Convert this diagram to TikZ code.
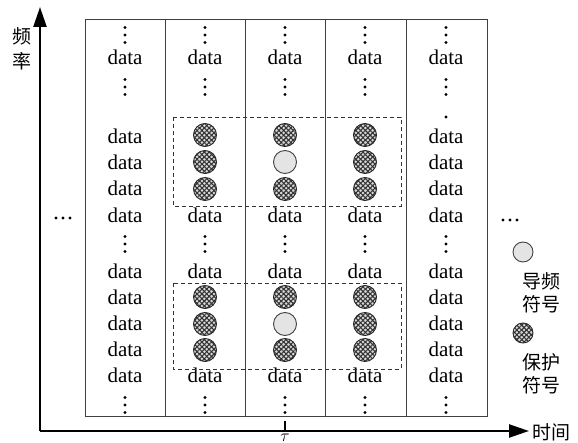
\documentclass[tikz,border=0pt]{standalone}
\usepackage{fontspec}
\setmainfont{Liberation Serif}
\newfontfamily\cjk{Noto Sans CJK SC}
\usetikzlibrary{arrows.meta,patterns.meta}

\begin{document}
\begin{tikzpicture}[x=1pt,y=-1pt,
  frame/.style={draw=black!75, line width=1pt},
  axis/.style={line width=2.4pt, -{Triangle[length=20pt,width=13pt]}},
  datum/.style={font=\fontsize{21}{24}\selectfont, inner sep=0pt},
  region/.style={draw=black!80, dash pattern=on 4pt off 3pt, line width=0.9pt},
  guard/.style={circle, minimum size=23pt, inner sep=0pt, draw=black!85, line width=0.9pt, fill=gray!30,
    postaction={pattern={Lines[angle=45,distance=3.4pt,line width=1.1pt]}, pattern color=black!80},
    postaction={pattern={Lines[angle=-45,distance=3.4pt,line width=1.1pt]}, pattern color=black!80}},
  pilot/.style={circle, minimum size=23pt, inner sep=0pt, draw=black!75, line width=0.9pt, fill=gray!12,
    postaction={pattern={Dots[radius=0.45pt,distance=2pt]}, pattern color=black!60}},
  small/.style={minimum size=20pt},
  cjklabel/.style={font=\cjk\fontsize{19}{22}\selectfont, inner sep=0pt},
  vdots/.pic={\foreach \k in {-7.5,0,7.5} \fill (0,\k) circle (1.7pt);},
  hdots/.pic={\foreach \k in {-7,0,7} \fill (\k,0) circle (1.6pt);}
]
\useasboundingbox (0,0) rectangle (578,443);

% axes
\coordinate (origin) at (40,431);
\coordinate (ftop) at (40,7);
\coordinate (tend) at (529,431);
\draw[axis] (origin) -- (ftop);
\draw[axis] (origin) -- (tend);
\node[cjklabel] (freq1) at (22,36) {频};
\node[cjklabel] (freq2) at (22,61) {率};
\node[cjklabel, anchor=west] (timelbl) at (532,432) {时间};
\coordinate (tickb) at (285,431);
\coordinate (tickt) at (285,421);
\draw[line width=2pt] (tickb) -- (tickt);
\node[font=\fontsize{16}{18}\selectfont, inner sep=0pt, anchor=south] (taulbl) at (285,442) {$\tau$};

% symbol grid
\draw[frame] (85,20) rectangle (487,416);
\foreach \xb in {165,245,325,406} \draw[frame] (\xb,20) -- (\xb,416);

% rows common to every column
\foreach \c/\x in {1/125,2/205,3/285,4/365,5/446} {
  \pic at (\x,35) {vdots};
  \node[datum] (top-\c) at (\x,57) {data};
  \pic at (\x,87) {vdots};
  \node[datum] (mid-\c) at (\x,215) {data};
  \pic at (\x,244) {vdots};
  \node[datum] (low-\c) at (\x,271) {data};
  \node[datum] (bot-\c) at (\x,375) {data};
  \pic at (\x,405) {vdots};
}
\fill (446,117) circle (1.7pt);

% plain data columns at both edges
\foreach \c/\x in {1/125,5/446} {
  \foreach \r/\y in {a/136,b/162,c/188,d/297,e/323,f/349}
    \node[datum] (d\r-\c) at (\x,\y) {data};
}

% pilot and guard symbols
\foreach \c/\x in {2/205,3/285,4/365} {
  \node[guard] (ga-\c) at (\x,135) {};
  \node[guard] (gc-\c) at (\x,189) {};
  \node[guard] (gd-\c) at (\x,297) {};
  \node[guard] (gf-\c) at (\x,350) {};
}
\node[guard] (gb-2) at (205,162) {};
\node[pilot] (pb-3) at (285,162) {};
\node[guard] (gb-4) at (365,162) {};
\node[guard] (ge-2) at (205,324) {};
\node[pilot] (pe-3) at (285,324) {};
\node[guard] (ge-4) at (365,324) {};

\draw[region] (173,117) rectangle (401,206);
\draw[region] (173,283) rectangle (401,369);

% continuation marks
\pic at (63,218) {hdots};
\pic at (510,220) {hdots};

% legend
\node[pilot, small] (legpilot) at (523,252) {};
\node[cjklabel] (legpilot1) at (541,281) {导频};
\node[cjklabel] (legpilot2) at (541,304) {符号};
\node[guard, small] (legguard) at (523,333) {};
\node[cjklabel] (legguard1) at (541,362) {保护};
\node[cjklabel] (legguard2) at (541,385) {符号};
\end{tikzpicture}
\end{document}
